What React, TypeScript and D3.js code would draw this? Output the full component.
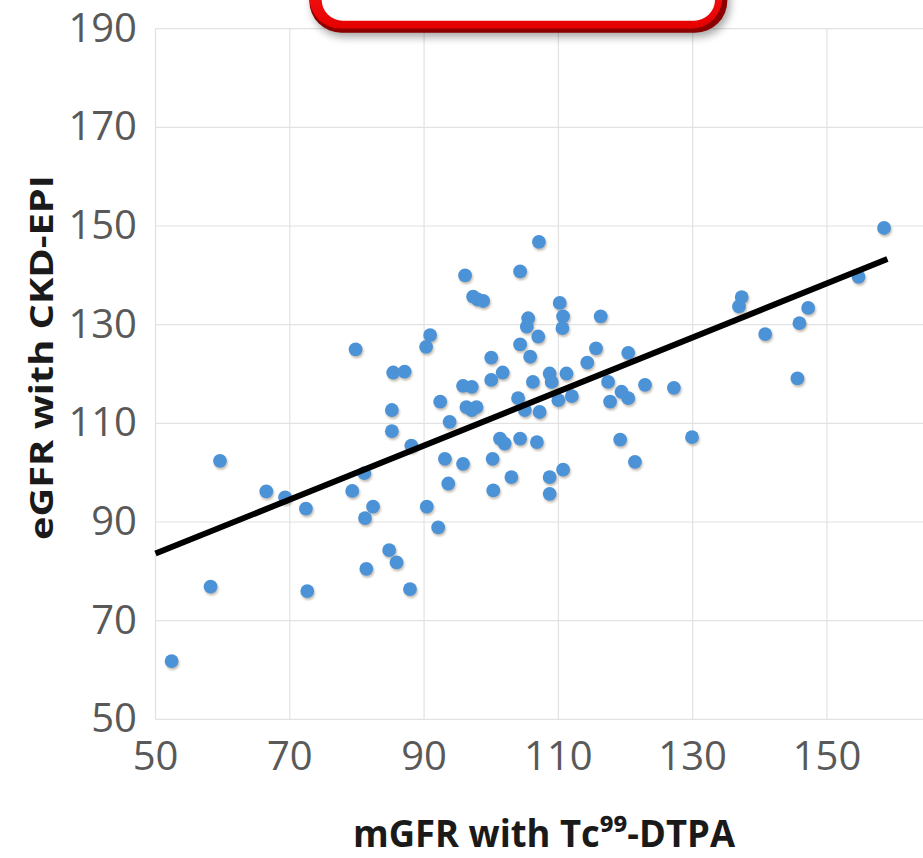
import React from "react";
import * as d3 from "d3";

const xs = [52.4, 58.2, 59.6, 66.5, 69.3, 72.4, 72.6, 79.3, 81.1, 82.4, 81.2, 81.4, 79.8, 84.8, 85.9, 87.9, 85.2, 85.2, 85.4, 87.1, 88.1, 90.4, 92.1, 93.1, 93.6, 92.4, 93.8, 90.3, 90.9, 95.8, 95.8, 97.1, 96.3, 97.8, 97.1, 96.1, 97.3, 98.0, 98.8, 100.0, 100.0, 101.7, 101.3, 102.0, 104.3, 106.8, 100.2, 103.0, 100.3, 108.7, 110.7, 108.7, 104.0, 105.0, 107.2, 110.0, 112.0, 106.2, 108.7, 111.2, 109.0, 105.8, 104.3, 107.0, 105.3, 105.5, 110.2, 110.7, 110.6, 107.1, 104.3, 116.3, 115.6, 114.3, 120.4, 117.4, 119.4, 120.4, 117.7, 122.9, 127.2, 119.2, 121.4, 129.9, 137.3, 136.9, 140.8, 147.2, 145.9, 145.6, 154.7, 158.5];
const ys = [61.8, 76.9, 102.4, 96.2, 95.0, 92.7, 76.0, 96.3, 99.9, 93.1, 90.8, 80.5, 125.0, 84.3, 81.8, 76.4, 108.4, 112.7, 120.3, 120.5, 105.5, 93.1, 88.9, 102.8, 97.8, 114.4, 110.3, 125.5, 127.9, 101.8, 117.6, 117.4, 113.3, 113.3, 112.7, 140.0, 135.7, 135.1, 134.8, 123.3, 118.8, 120.3, 106.9, 105.9, 106.9, 106.2, 102.8, 99.1, 96.4, 99.1, 100.6, 95.7, 115.1, 112.7, 112.3, 114.7, 115.5, 118.4, 120.1, 120.1, 118.4, 123.5, 126.0, 127.6, 129.6, 131.3, 134.4, 131.7, 129.3, 146.8, 140.8, 131.7, 125.2, 122.3, 124.3, 118.4, 116.4, 115.1, 114.4, 117.8, 117.2, 106.7, 102.2, 107.2, 135.6, 133.7, 128.1, 133.4, 130.3, 119.1, 139.7, 149.6];

const trendX = [50, 159];
const trendY = [83.6, 143.3];

const xTicks = [50, 70, 90, 110, 130, 150];
const yTicks = [50, 70, 90, 110, 130, 150, 170, 190];

const xTitle = "mGFR with Tc\u2079\u2079-DTPA";
const yTitle = "eGFR with CKD-EPI";

export default function App() {
  const W = 923, H = 858;
  const x = d3.scaleLinear().domain([50, 164.3]).range([155.5, 923]);
  const y = d3.scaleLinear().domain([50, 190]).range([719.3, 28.7]);
  const line = d3.line<number>().x((d) => x(trendX[d])).y((d) => y(trendY[d]));
  const pts = xs.map((v, i) => ({ x: v, y: ys[i] }));
  const font = "'Open Sans', 'Noto Sans', sans-serif";
  return (
    <svg width={W} height={H} style={{ position: "absolute", left: 0, top: 0, background: "#fff" }}>
      <defs>
        <filter id="dotShadow" x="-50%" y="-50%" width="200%" height="200%">
          <feDropShadow dx="1" dy="2" stdDeviation="1.3" floodColor="#7a6a50" floodOpacity="0.45" />
        </filter>
        <filter id="boxShadow" x="-20%" y="-50%" width="140%" height="200%">
          <feGaussianBlur stdDeviation="4" />
        </filter>
        <linearGradient id="redBright" x1="0" y1="0" x2="0" y2="1">
          <stop offset="0" stopColor="#ff2a2a" />
          <stop offset="1" stopColor="#e60000" />
        </linearGradient>
      </defs>
      {/* gridlines */}
      <g stroke="#e2e2e2" strokeWidth={1.2}>
        {yTicks.map((t) => (
          <line key={"h" + t} x1={x(50)} x2={W} y1={y(t)} y2={y(t)} />
        ))}
        {xTicks.map((t) => (
          <line key={"v" + t} x1={x(t)} x2={x(t)} y1={y(190)} y2={y(50)} />
        ))}
      </g>
      {/* tick labels */}
      <g fill="#595959" fontFamily={font} fontSize={40}>
        {yTicks.map((t) => (
          <text key={"yl" + t} x={137} y={y(t) + 13} textAnchor="end">{t}</text>
        ))}
        {xTicks.map((t) => (
          <text key={"xl" + t} x={x(t)} y={770} textAnchor="middle">{t}</text>
        ))}
      </g>
      {/* points */}
      <g filter="url(#dotShadow)">
        {pts.map((p, i) => (
          <circle key={i} cx={x(p.x)} cy={y(p.y)} r={6.9} fill="#4b93d6" />
        ))}
      </g>
      {/* trend line */}
      <path d={line([0, 1]) || ""} stroke="#000" strokeWidth={6} fill="none" />
      {/* titles */}
      <text
        transform="translate(53,357.5) rotate(-90)"
        textAnchor="middle"
        fontFamily={font}
        fontWeight={700}
        fontSize={33}
        fill="#1a1a1a"
        textLength={365}
        lengthAdjust="spacingAndGlyphs"
      >
        {yTitle}
      </text>
      <text
        x={544}
        y={847}
        textAnchor="middle"
        fontFamily={font}
        fontWeight={700}
        fontSize={37}
        fill="#1a1a1a"
        textLength={382}
        lengthAdjust="spacingAndGlyphs"
      >
        {xTitle}
      </text>
      {/* red callout box (top, cut off) */}
      <rect x={312} y={-60} width={418} height={97} rx={32} fill="#000" opacity={0.35} filter="url(#boxShadow)" />
      <rect x={309.3} y={-60} width={418} height={92.7} rx={32} fill="#8c0000" />
      <rect x={309.3} y={-60} width={413} height={88.5} rx={31} fill="url(#redBright)" />
      <rect x={321.7} y={-60} width={393.3} height={80.7} rx={21} fill="#fff" />
    </svg>
  );
}
